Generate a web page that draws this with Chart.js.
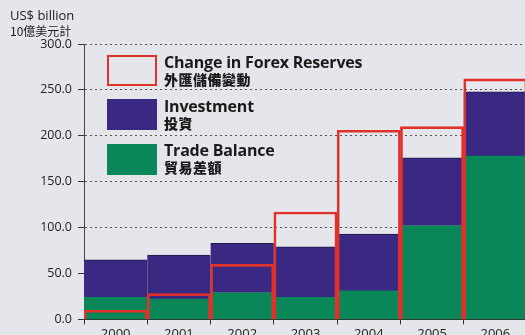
<!DOCTYPE html>
<html>
<head>
<meta charset="utf-8">
<script src="https://cdn.jsdelivr.net/npm/chart.js@4"></script>
<style>
  html, body { margin: 0; padding: 0; overflow: hidden; background: #e5e6eb; }
  #wrap { position: relative; width: 527px; height: 344px; }
  .unit { position: absolute; left: 10px; top: 8px; font-family: 'Open Sans', sans-serif; color: #222; font-size: 13px; line-height: 15px; }
  .unit .zh { font-family: 'Noto Sans CJK TC', sans-serif; font-size: 12px; }
  .box { position: absolute; left: 107px; width: 50px; height: 31px; box-sizing: border-box; }
  .txt { position: absolute; left: 164px; color: #1a1a1a; }
  .txt .en { font-family: 'Open Sans', sans-serif; font-weight: 700; font-size: 16px; line-height: 18px; letter-spacing: -0.2px; }
  .txt .zh { font-family: 'Noto Sans CJK TC', sans-serif; font-weight: 900; font-size: 14px; line-height: 16px; letter-spacing: 0.5px; }
</style>
</head>
<body>
<div id="wrap">
  <canvas id="chart" width="527" height="344"></canvas>
  <div class="unit">US$ billion<br><span class="zh">10億美元計</span></div>

  <div class="box" style="top:55px;border:2px solid #e0322a;"></div>
  <div class="txt" style="top:53px"><div class="en">Change in Forex Reserves</div><div class="zh">外匯儲備變動</div></div>

  <div class="box" style="top:99px;background:#3a2882;"></div>
  <div class="txt" style="top:97px"><div class="en">Investment</div><div class="zh">投資</div></div>

  <div class="box" style="top:144px;background:#0a8758;"></div>
  <div class="txt" style="top:141px"><div class="en">Trade Balance</div><div class="zh">貿易差額</div></div>
</div>
<script>
// 數據 (US$ billion)
var years = ['2000', '2001', '2002', '2003', '2004', '2005', '2006'];
var tradeBalance = [24, 22, 29, 24, 31, 102, 178];
var investment = [41, 48, 54, 55, 62, 74, 70];
var forexChange = [10, 28, 60, 117, 206, 210, 262];
var yTicks = [0, 50, 100, 150, 200, 250, 300];

var chart = new Chart(document.getElementById('chart').getContext('2d'), {
    type: 'bar',
    data: {
        labels: years,
        datasets: [
            {
                label: 'Change in Forex Reserves',
                data: forexChange,
                backgroundColor: 'rgba(0,0,0,0)',
                borderColor: '#e0322a',
                borderWidth: 2,
                stack: 'forex',
                grouped: false
            },
            {
                label: 'Trade Balance',
                data: tradeBalance,
                backgroundColor: '#0a8758',
                borderWidth: 0,
                stack: 'flow'
            },
            {
                label: 'Investment',
                data: investment,
                backgroundColor: '#3a2882',
                borderColor: '#221a4a',
                borderWidth: { top: 1 },
                stack: 'flow'
            }
        ]
    },
    options: {
        responsive: false,
        animation: false,
        devicePixelRatio: 1,
        barPercentage: 1,
        categoryPercentage: 1,
        layout: { padding: { top: 44, right: 0, bottom: 0, left: 0 } },
        plugins: {
            legend: { display: false },
            tooltip: { enabled: false }
        },
        scales: {
            x: {
                grid: { display: true, drawOnChartArea: false, offset: true, tickLength: 5, color: '#333' },
                border: { display: true, color: '#333', width: 1 },
                ticks: { color: '#222', padding: 2, font: { family: 'Open Sans', size: 13 } }
            },
            y: {
                stacked: true,
                min: 0,
                max: 300,
                afterBuildTicks: function (scale) {
                    scale.ticks = yTicks.map(function (v) { return { value: v }; });
                },
                afterFit: function (scale) { scale.width = 84; },
                grid: { color: '#555', tickLength: 6, tickColor: '#333', tickBorderDash: [] },
                border: { display: true, color: '#444', width: 1, dash: [2, 3] },
                ticks: {
                    color: '#222',
                    padding: 6,
                    font: { family: 'Open Sans', size: 12.5 },
                    callback: function (v) { return Number(v).toFixed(1); }
                }
            }
        }
    }
});
</script>
</body>
</html>
